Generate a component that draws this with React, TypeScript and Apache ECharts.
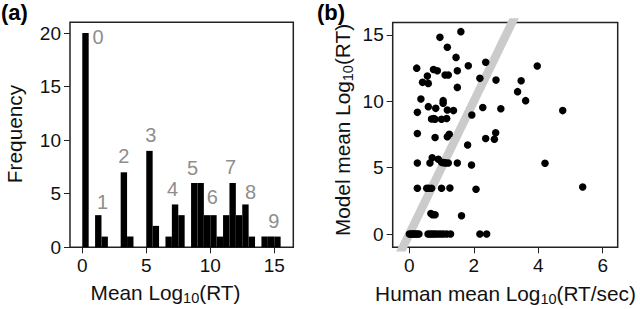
import React, { useEffect, useRef } from 'react';
import * as echarts from 'echarts';

// ---------- Panel (a): histogram of model mean Log10(RT) ----------
const binStart = [0, 0.5, 1, 1.5, 2, 2.5, 3, 3.5, 4, 4.5, 5, 5.5, 6, 6.5, 7, 7.5, 8, 8.5, 9, 9.5, 10, 10.5, 11, 11.5, 12, 12.5, 13, 13.5, 14, 14.5, 15];
const binEnd = [0.5, 1, 1.5, 2, 2.5, 3, 3.5, 4, 4.5, 5, 5.5, 6, 6.5, 7, 7.5, 8, 8.5, 9, 9.5, 10, 10.5, 11, 11.5, 12, 12.5, 13, 13.5, 14, 14.5, 15, 15.5];
const binCounts = [20, 0, 3, 1, 0, 0, 7, 1, 0, 0, 9, 2, 0, 1, 4, 3, 0, 6, 6, 3, 3, 1, 3, 6, 3, 4, 1, 0, 1, 1, 1];
const histXTicks = [0, 5, 10, 15];
const histYTicks = [0, 5, 10, 15, 20];

const annoText = ['0', '1', '2', '3', '4', '5', '6', '7', '8', '9'];
const annoX = [1.23, 1.59, 3.24, 5.35, 7.05, 8.61, 10.17, 11.58, 13.16, 14.96];
const annoY = [19.65, 4.23, 8.48, 10.48, 5.41, 7.37, 4.66, 7.49, 5.13, 2.47];

// ---------- Panel (b): human vs model ----------
const humanX = [
  0.0, 0.04, 0.08, 0.12, 0.16, 0.2, 0.25, 0.3, 0.58, 0.64, 0.7, 0.76, 0.82, 0.9, 0.98, 1.06, 1.16, 1.28, 2.19, 2.4,
  0.67, 0.72, 0.8, 1.62,
  0.25, 0.54, 0.6, 0.69, 1.0, 1.26, 2.07, 5.38,
  0.25, 0.64, 0.71, 0.9, 1.0, 1.06, 1.13, 1.21, 1.49, 1.93, 4.21,
  0.25, 0.8, 1.18, 1.24, 1.81, 2.37, 2.64, 2.68,
  0.69, 0.76, 0.8, 1.0, 1.16, 1.94, 0.25, 0.82, 1.18, 1.37, 2.84, 4.76, 0.59, 2.28, 1.05, 0.36, 1.05, 3.61,
  3.36, 0.41, 0.59, 1.49, 0.56, 1.11, 1.21, 2.19, 2.69, 3.47, 0.75, 0.87, 1.49, 0.23, 1.83, 3.97, 2.37, 1.45, 1.18, 0.95, 1.6,
];
const modelY = [
  0, 0, 0, 0, 0, 0, 0, 0, 0, 0, 0, 0, 0, 0, 0, 0, 0, 0, 0, 0,
  1.55, 1.45, 1.45, 1.38,
  3.45, 3.45, 3.45, 3.45, 3.45, 3.47, 3.37, 3.55,
  5.35, 5.35, 5.75, 5.63, 5.4, 5.38, 5.36, 5.35, 5.35, 5.2, 5.33,
  7.58, 7.28, 7.33, 7.52, 6.71, 7.2, 7.15, 7.63,
  8.67, 8.7, 8.65, 8.65, 8.7, 8.97, 9.17, 9.47, 9.35, 9.3, 9.44, 9.3, 9.6, 9.54, 9.85, 10.17, 10.05, 10.05,
  10.73, 11.43, 11.35, 11.05, 11.9, 11.99, 11.99, 11.73, 11.6, 11.55, 12.4, 12.3, 12.3, 12.5, 12.68, 12.66, 12.94, 13.31, 14.07, 14.82, 15.25,
];
const refLineX = [-0.6, 3.6];
const refLineY = [-3, 18];
const scatXTicks = [0, 2, 4, 6];
const scatYTicks = [0, 5, 10, 15];

const FONT = '"Liberation Sans", Arial, Helvetica, sans-serif';
const INK = '#111';

function axisCommon(ticks: number[]) {
  return {
    type: 'value' as const,
    axisLine: { show: false, onZero: false },
    axisTick: { show: true, length: 6, inside: false, customValues: ticks, lineStyle: { color: '#222', width: 1 } },
    axisLabel: { show: true, customValues: ticks, fontSize: 19, color: INK, fontFamily: FONT, margin: 9 },
    splitLine: { show: false },
  };
}

function titleRich() {
  return {
    m: { fontSize: 20.8, lineHeight: 26, verticalAlign: 'middle', fontFamily: FONT, fill: INK },
    s: { fontSize: 14.5, lineHeight: 12, verticalAlign: 'bottom', fontFamily: FONT, fill: INK },
  };
}

export default function App() {
  const ref = useRef<HTMLDivElement>(null);
  useEffect(() => {
    if (!ref.current) return;
    const chart = echarts.init(ref.current, null, { renderer: 'svg' });
    const histData = binStart.map((s, i) => [s, binEnd[i], binCounts[i]]);
    const annoData = annoText.map((t, i) => [annoX[i], annoY[i], t]);
    const scatData = humanX.map((x, i) => [x, modelY[i]]);
    const lineData = refLineX.map((x, i) => [x, refLineY[i]]);

    chart.setOption({
      animation: false,
      backgroundColor: '#fff',
      grid: [
        { left: 70, top: 22.3, width: 223.3, height: 225, show: true, borderColor: '#222', borderWidth: 1.5, backgroundColor: 'transparent', containLabel: false, outerBoundsMode: 'none' },
        { left: 392.7, top: 22.5, width: 225, height: 224.8, show: true, borderColor: '#222', borderWidth: 1.5, backgroundColor: 'transparent', containLabel: false, outerBoundsMode: 'none' },
      ],
      xAxis: [
        { ...axisCommon(histXTicks), gridIndex: 0, min: -0.96, max: 16.49 },
        { ...axisCommon(scatXTicks), gridIndex: 1, min: -0.515, max: 6.466 },
      ],
      yAxis: [
        { ...axisCommon(histYTicks), gridIndex: 0, min: 0, max: 21 },
        { ...axisCommon(scatYTicks), gridIndex: 1, min: -1.0, max: 15.94 },
      ],
      series: [
        {
          type: 'custom',
          xAxisIndex: 0,
          yAxisIndex: 0,
          data: histData,
          encode: { x: [0, 1], y: 2 },
          renderItem: (params: any, api: any) => {
            const p0 = api.coord([api.value(0), api.value(2)]);
            const p1 = api.coord([api.value(1), 0]);
            return {
              type: 'rect',
              shape: { x: p0[0], y: p0[1], width: p1[0] - p0[0], height: p1[1] - p0[1] },
              style: { fill: '#000' },
            };
          },
        },
        {
          type: 'custom',
          xAxisIndex: 0,
          yAxisIndex: 0,
          data: annoData,
          encode: { x: 0, y: 1 },
          renderItem: (params: any, api: any) => {
            const p = api.coord([api.value(0), api.value(1)]);
            return {
              type: 'text',
              x: p[0],
              y: p[1],
              style: {
                text: annoText[params.dataIndex],
                fill: '#8e8e8e',
                fontSize: 20,
                fontFamily: FONT,
                align: 'center',
                verticalAlign: 'middle',
              },
            };
          },
        },
        {
          type: 'line',
          xAxisIndex: 1,
          yAxisIndex: 1,
          data: lineData,
          symbol: 'none',
          clip: true,
          lineStyle: { color: '#cbcbcb', width: 8.5, cap: 'butt' },
          z: 1,
        },
        {
          type: 'scatter',
          xAxisIndex: 1,
          yAxisIndex: 1,
          data: scatData,
          symbol: 'circle',
          symbolSize: 7.5,
          itemStyle: { color: '#000', opacity: 1 },
          z: 3,
        },
      ],
      graphic: [
        { type: 'text', x: 1, y: 12, style: { text: '(a)', fontSize: 22, fontWeight: 'bold', fontFamily: FONT, fill: '#000', align: 'left', verticalAlign: 'middle' } },
        { type: 'text', x: 317, y: 12, style: { text: '(b)', fontSize: 22, fontWeight: 'bold', fontFamily: FONT, fill: '#000', align: 'left', verticalAlign: 'middle' } },
        { type: 'text', x: 14.5, y: 134, rotation: Math.PI / 2, style: { text: 'Frequency', fontSize: 20.8, fontFamily: FONT, fill: INK, align: 'center', verticalAlign: 'middle' } },
        { type: 'text', x: 165.5, y: 292.5, style: { text: '{m|Mean Log}{s|10}{m|(RT)}', rich: titleRich(), align: 'center', verticalAlign: 'middle' } },
        { type: 'text', x: 342.5, y: 130, rotation: Math.PI / 2, style: { text: '{m|Model mean Log}{s|10}{m|(RT)}', rich: titleRich(), align: 'center', verticalAlign: 'middle' } },
        { type: 'text', x: 505.5, y: 293.5, style: { text: '{m|Human mean Log}{s|10}{m|(RT/sec)}', rich: titleRich(), align: 'center', verticalAlign: 'middle' } },
      ],
    });
    return () => chart.dispose();
  }, []);
  return <div ref={ref} style={{ position: 'absolute', left: 0, top: 0, width: 640, height: 309 }} />;
}
